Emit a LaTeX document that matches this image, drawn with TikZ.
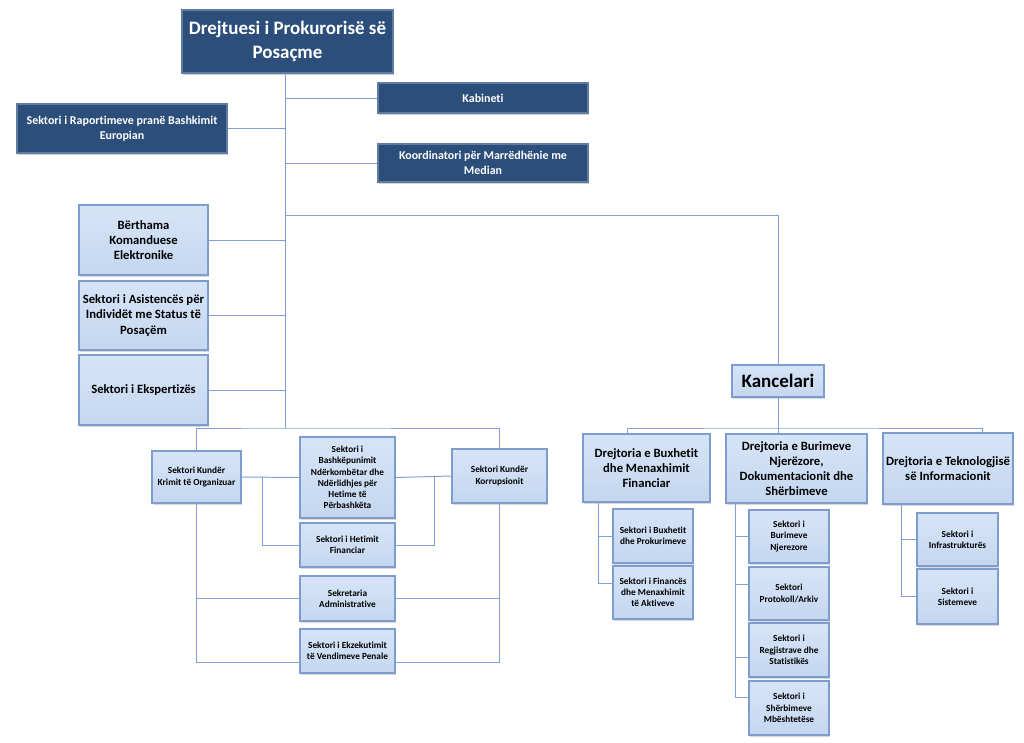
\documentclass[tikz,border=0pt]{standalone}
\usepackage{fontspec}
\setmainfont{Carlito}[Ligatures=NoCommon]
\usetikzlibrary{calc,shadows}

\definecolor{darkfill}{RGB}{44,78,122}
\definecolor{darkedge}{RGB}{96,124,160}
\definecolor{lightfill}{RGB}{196,215,240}
\definecolor{lighttop}{RGB}{214,228,247}
\definecolor{lightedge}{RGB}{126,156,206}
\definecolor{linkblue}{RGB}{128,158,216}

\tikzset{
  wh/.style 2 args={minimum width=#1*0.025cm, minimum height=#2*0.025cm},
  headbox/.style={draw=darkedge, line width=0.8pt, fill=darkfill, text=white, align=center, inner sep=1pt,
    font=\bfseries\fontsize{8.5}{10.5}\selectfont,
    drop shadow={opacity=0.35, shadow xshift=1pt, shadow yshift=-1.2pt}},
  unitbox/.style={draw=lightedge, line width=1.2pt, top color=lighttop, bottom color=lightfill, align=center, inner sep=1pt,
    font=\bfseries\fontsize{9}{10.8}\selectfont,
    drop shadow={opacity=0.3, shadow xshift=1pt, shadow yshift=-1.2pt}},
  smallbox/.style={unitbox, font=\bfseries\fontsize{6.6}{8}\selectfont},
  link/.style={draw=linkblue, line width=0.7pt}
}

\begin{document}
\begin{tikzpicture}[x=0.025cm, y=-0.025cm]
\fill[white] (0,0) rectangle (1024,742);
\useasboundingbox (0,0) rectangle (1024,742);

\node[headbox, wh={211}{63}, font=\bfseries\fontsize{13.5}{17}\selectfont] (head) at (287.5,41.5) {Drejtuesi i Prokurorisë së\\Posaçme};
\node[headbox, wh={210}{30}] (kab) at (483,98) {Kabineti};
\node[headbox, wh={210}{49}] (rap) at (122,128.5) {Sektori i Raportimeve pranë Bashkimit\\Europian};
\node[headbox, wh={210}{38}] (koo) at (483,163) {Koordinatori për Marrëdhënie me\\Median};

\node[unitbox, wh={129}{70}] (ber) at (143.5,240) {Bërthama\\Komanduese\\Elektronike};
\node[unitbox, wh={129}{69}] (asi) at (143.5,315.5) {Sektori i Asistencës për\\Individët me Status të\\Posaçëm};
\node[unitbox, wh={129}{70}] (eks) at (143.5,390) {Sektori i Ekspertizës};

\node[smallbox, wh={89}{52}] (kri) at (196.5,477) {Sektori Kundër\\Krimit të Organizuar};
\node[smallbox, wh={95}{81}] (bas) at (347.5,477.5) {Sektori i\\Bashkëpunimit\\Ndërkombëtar dhe\\Ndërlidhjes për\\Hetime të\\Përbashkëta};
\node[smallbox, wh={95}{54}] (kor) at (499.5,476) {Sektori Kundër\\Korrupsionit};
\node[smallbox, wh={95}{44}] (het) at (347.5,545) {Sektori i Hetimit\\Financiar};
\node[smallbox, wh={95}{45}] (sek) at (347.5,598.5) {Sekretaria\\Administrative};
\node[smallbox, wh={95}{44}] (ekz) at (347.5,651) {Sektori i Ekzekutimit\\të Vendimeve Penale};

\node[unitbox, wh={92}{32}, font=\bfseries\fontsize{13.5}{16}\selectfont] (kan) at (778,381) {Kancelari};
\node[unitbox, wh={127}{68}] (bux) at (646.5,468) {Drejtoria e Buxhetit\\dhe Menaxhimit\\Financiar};
\node[unitbox, wh={141}{69}] (bur) at (796.5,468.5) {Drejtoria e Burimeve\\Njerëzore,\\Dokumentacionit dhe\\Shërbimeve};
\node[unitbox, wh={130}{71}] (tek) at (948,468.5) {Drejtoria e Teknologjisë\\së Informacionit};

\node[smallbox, wh={80}{54}] (sbp) at (653,536) {Sektori i Buxhetit\\dhe Prokurimeve};
\node[smallbox, wh={80}{53}] (sfi) at (653,592.5) {Sektori i Financës\\dhe Menaxhimit\\të Aktiveve};
\node[smallbox, wh={80}{53}] (sbn) at (789,536.5) {Sektori i\\Burimeve\\Njerezore};
\node[smallbox, wh={80}{53}] (spa) at (789,593.5) {Sektori\\Protokoll/Arkiv};
\node[smallbox, wh={80}{54}] (srs) at (789,650) {Sektori i\\Regjistrave dhe\\Statistikës};
\node[smallbox, wh={80}{54}] (ssm) at (789,708) {Sektori i\\Shërbimeve\\Mbështetëse};
\node[smallbox, wh={81}{53}] (sin) at (957.5,539.5) {Sektori i\\Infrastrukturës};
\node[smallbox, wh={81}{55}] (sis) at (957.5,596.5) {Sektori i\\Sistemeve};

\coordinate (trunk) at (285,428);
\coordinate (kjoin) at (285,215);
\coordinate (kbar) at (778,428);

\draw[link] (head.south -| trunk) -- (trunk);
\draw[link] (kab.west) -- (kab.west -| trunk);
\draw[link] (rap.east) -- (rap.east -| trunk);
\draw[link] (koo.west) -- (koo.west -| trunk);
\draw[link] (kjoin) -| (kan.north);
\foreach \n in {ber,asi,eks}
  \draw[link] (\n.east) -- (\n.east -| trunk);

\draw[link] (kri.north) |- (trunk) -| (kor.north);
\draw[link] (kri.east) -- (bas.west);
\draw[link] (bas.east) -- (kor.west);
\coordinate (lj) at ($(kri.east)!0.36!(bas.west)$);
\coordinate (rj) at ($(bas.east)!0.7!(kor.west)$);
\draw[link] (lj) |- (het.west);
\draw[link] (rj) |- (het.east);
\draw[link] (kri.south) |- (ekz.193);
\draw[link] (kor.south) |- (ekz.-13);
\draw[link] (sek.west) -- (sek.west -| kri.south);
\draw[link] (sek.east) -- (sek.east -| kor.south);

\draw[link] (kan.south) -- (kan.south |- bur.north);
\draw[link] ([xshift=-0.4875cm]bux.north) |- (kbar) -| ([xshift=0.85cm]tek.north);

\coordinate (bv) at ([xshift=0.4cm]bux.south west);
\coordinate (rv) at ([xshift=0.25cm]bur.south west);
\coordinate (tv) at ([xshift=0.475cm]tek.south west);
\draw[link] (bv) |- (sfi.167);
\draw[link] (sbp.west) -- (sbp.west -| bv);
\draw[link] (rv) |- (ssm.166);
\draw[link] (sbn.west) -- (sbn.west -| rv);
\draw[link] (spa.167) -- (spa.167 -| rv);
\draw[link] (srs.190) -- (srs.190 -| rv);
\draw[link] (tv) |- (sis.west);
\draw[link] (sin.west) -- (sin.west -| tv);
\end{tikzpicture}
\end{document}
